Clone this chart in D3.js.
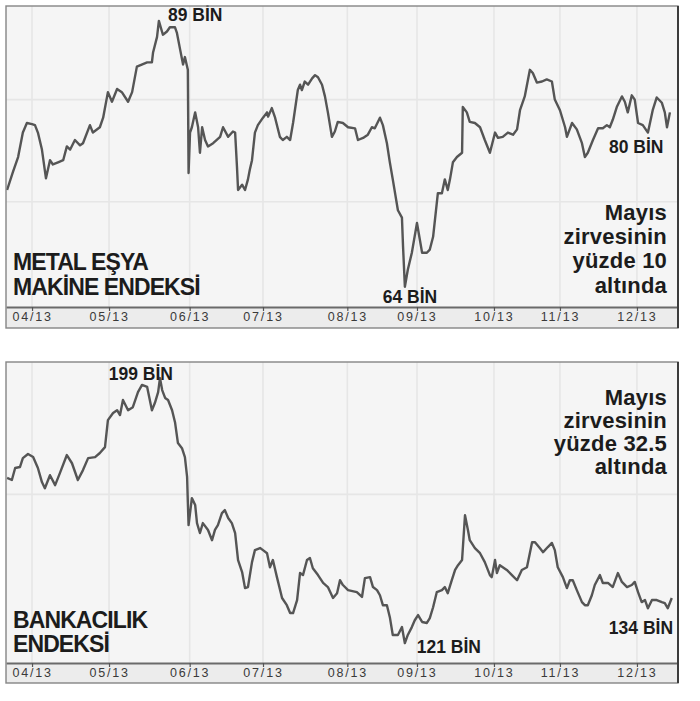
<!DOCTYPE html>
<html>
<head>
<meta charset="utf-8">
<script src="https://cdn.jsdelivr.net/npm/d3@7"></script>
<style>
  body { margin: 0; background: #fff; }
  svg { display: block; }
</style>
</head>
<body>
<div id="chart"></div>
<script>
// month ticks, as trading-day index (04/13 = day 0)
const monthLabels = ['04/13', '05/13', '06/13', '07/13', '08/13', '09/13', '10/13', '11/13', '12/13'];
const monthDays = [0, 21, 43, 63, 86, 105, 126, 144, 165];

// [trading day, index value in thousands]
const metalSeries = [[-6.8,73.1],[-5.2,74.8],[-3.8,76.2],[-2.5,78.5],[-1.4,79.4],[0,79.3],[0.8,79.2],[1.6,78.5],[2.7,76.9],[3.8,74.2],[4.9,75.9],[5.7,75.5],[7.1,75.7],[8.5,75.9],[9.5,77.2],[10.4,76.9],[11.7,77.8],[13.1,77.3],[13.9,77.5],[15.8,79.2],[16.6,78.5],[18.5,79.0],[19.4,79.9],[20.7,82.3],[21.8,81.4],[23.2,82.6],[24.5,82.3],[26.2,81.4],[27.3,82.3],[28.6,84.7],[31.4,85.1],[32.7,85.1],[33.0,86.0],[34.1,87.5],[34.6,89.0],[35.7,87.7],[36.8,88.0],[37.6,88.4],[39.0,88.4],[39.5,87.9],[40.4,86.3],[41.2,84.9],[41.7,85.6],[42.5,84.4],[42.7,74.7],[43.1,78.5],[43.6,79.0],[44.5,80.4],[45.3,79.0],[45.8,76.6],[46.4,79.0],[47.2,77.8],[48.0,77.2],[49.4,77.5],[51.3,78.1],[52.1,79.0],[53.5,78.1],[54.8,78.6],[55.4,78.5],[55.9,75.3],[56.2,73.1],[57.3,73.6],[58.1,73.1],[58.9,74.1],[59.4,75.0],[60.0,75.9],[60.8,78.5],[61.6,79.2],[63.0,79.9],[64.1,80.4],[64.4,80.0],[65.4,80.8],[66.3,79.9],[67.6,78.1],[68.4,77.8],[69.5,78.1],[70.4,77.8],[71.2,79.4],[72.5,82.5],[73.1,83.0],[73.6,82.5],[74.4,83.3],[75.3,83.0],[76.4,83.6],[77.2,83.9],[78.0,83.7],[79.1,83.0],[79.9,81.9],[80.7,80.4],[81.8,78.1],[82.6,78.6],[83.4,79.5],[84.8,79.4],[86.2,79.0],[88.1,78.9],[88.9,77.8],[90.3,78.0],[91.6,78.3],[92.7,79.0],[93.5,78.9],[94.9,79.9],[95.7,79.2],[96.8,77.5],[97.6,75.7],[98.4,74.1],[99.8,71.2],[100.9,70.5],[101.2,67.8],[101.7,64.0],[102.5,65.6],[103.6,67.2],[105.0,70.0],[105.8,68.4],[106.4,67.2],[107.7,67.2],[108.5,67.5],[109.4,68.7],[110.7,72.8],[111.8,72.8],[112.6,74.1],[113.4,73.1],[114.0,74.1],[114.8,75.7],[115.9,76.2],[117.3,76.6],[117.5,80.9],[118.6,80.4],[119.4,79.5],[120.8,79.4],[122.2,79.0],[123.5,77.8],[124.9,76.6],[126.3,78.5],[127.1,78.0],[128.4,78.1],[129.8,78.5],[131.2,78.3],[132.3,78.8],[133.1,80.6],[134.4,81.9],[135.8,84.4],[136.6,84.1],[137.7,83.2],[139.1,83.3],[140.4,83.5],[141.8,83.3],[142.6,81.6],[144.0,80.6],[145.4,79.0],[145.9,78.1],[147.3,79.4],[148.6,78.8],[150.0,77.5],[150.8,76.2],[151.6,76.6],[153.0,77.8],[154.4,78.9],[155.7,78.9],[156.8,79.2],[157.6,79.0],[158.4,79.7],[159.5,80.9],[160.9,81.9],[161.7,81.4],[162.5,80.4],[163.6,82.0],[164.4,81.6],[165.3,79.4],[166.6,79.2],[168.0,78.5],[169.3,80.6],[170.4,81.8],[171.8,81.3],[172.6,80.4],[173.2,79.0],[174.0,80.4]];

const bankSeries = [[-6.8,169.8],[-5.5,169.2],[-4.6,172.7],[-3.3,173.0],[-2.5,175.6],[-1.1,176.8],[0.3,175.9],[1.6,172.7],[2.7,168.6],[3.5,166.8],[4.9,170.6],[6.3,167.7],[7.6,171.2],[9.5,176.5],[10.9,174.1],[12.5,169.2],[13.9,172.1],[15.3,175.6],[17.2,175.9],[18.5,177.1],[19.9,178.8],[20.7,186.7],[22.1,188.8],[23.2,189.6],[24.0,188.2],[24.8,192.6],[26.2,189.6],[27.5,190.5],[28.9,194.9],[30.0,197.0],[31.4,196.4],[32.7,189.6],[33.5,191.7],[34.4,194.9],[34.9,199.0],[35.5,195.5],[36.3,193.2],[37.1,192.6],[38.2,189.6],[39.0,186.1],[39.8,180.0],[40.9,178.5],[41.7,175.9],[42.3,170.1],[42.5,162.7],[42.7,156.0],[43.6,163.9],[44.5,161.9],[45.0,156.6],[45.8,153.7],[46.6,156.6],[48.0,154.6],[49.1,151.6],[49.9,154.6],[50.7,156.0],[51.8,159.5],[52.6,160.4],[53.5,158.1],[54.5,156.6],[55.4,153.7],[56.2,145.8],[57.3,142.3],[58.1,137.6],[58.9,137.9],[60.0,145.2],[60.8,148.7],[62.2,149.3],[63.0,148.7],[64.1,147.8],[64.9,143.7],[65.7,145.8],[66.8,140.8],[68.2,134.7],[69.5,132.6],[70.4,130.3],[71.2,130.3],[72.3,134.1],[73.1,142.0],[73.9,141.4],[75.0,145.8],[75.8,146.4],[76.6,143.4],[78.0,141.4],[79.4,139.1],[80.7,137.9],[82.1,134.7],[83.2,136.1],[84.0,139.9],[84.8,138.5],[86.2,137.0],[88.6,136.4],[90.0,135.0],[90.8,140.5],[92.2,140.8],[93.0,137.9],[94.1,137.0],[94.9,135.5],[95.7,132.6],[96.8,132.6],[97.6,129.1],[98.4,123.9],[99.8,123.9],[100.9,126.2],[101.7,121.5],[102.5,123.9],[103.6,126.2],[104.4,128.2],[105.3,129.7],[106.4,127.7],[107.7,127.4],[108.5,128.8],[109.4,132.0],[110.4,136.4],[111.8,137.0],[112.6,137.9],[113.4,136.1],[114.5,139.9],[115.4,142.9],[116.2,144.3],[117.3,145.8],[118.1,158.9],[118.9,154.6],[119.4,151.6],[120.8,149.3],[122.2,147.8],[123.5,145.2],[124.9,141.4],[125.4,140.8],[126.3,145.8],[126.8,142.0],[127.6,144.3],[129.5,142.9],[130.9,141.4],[132.3,139.9],[133.6,142.9],[135.0,143.7],[136.4,151.0],[137.2,151.0],[138.5,149.3],[139.4,148.1],[140.7,149.6],[141.8,150.8],[142.6,148.7],[143.4,143.7],[144.8,140.8],[145.9,137.6],[146.7,139.9],[147.5,139.9],[148.6,137.0],[150.0,133.5],[150.8,132.6],[151.6,132.6],[152.7,135.5],[153.5,138.5],[154.9,141.4],[155.7,139.1],[157.1,139.1],[158.4,137.9],[159.8,142.0],[160.9,139.4],[162.3,137.9],[163.6,138.5],[164.4,139.4],[165.3,136.4],[166.3,133.5],[167.2,134.1],[168.0,131.7],[169.1,134.1],[170.4,134.1],[171.8,133.5],[172.6,133.2],[173.4,131.7],[174.5,134.7]];

var W = 700, H = 701;
var left = 6, right = 678;

var svg = d3.select('#chart')
  .append('svg')
  .attr('width', W)
  .attr('height', H);

svg.append('rect').attr('width', W).attr('height', H).attr('fill', '#fff');

var x = d3.scaleLinear().domain([-7.1, 176.2]).range([left, right]);

function drawPanel(cfg) {
  var y = d3.scaleLinear().domain(cfg.domain).range([cfg.bottom, cfg.top]);
  var g = svg.append('g');
  var clipId = 'clip-' + cfg.id;

  g.append('clipPath').attr('id', clipId)
    .append('rect')
    .attr('x', left).attr('y', cfg.top)
    .attr('width', right - left).attr('height', cfg.bottom - cfg.top);

  // plot background + axis strip
  g.append('rect')
    .attr('x', left).attr('y', cfg.top)
    .attr('width', right - left).attr('height', cfg.bottom - cfg.top)
    .attr('fill', '#f5f5f5');
  g.append('rect')
    .attr('x', left).attr('y', cfg.bottom)
    .attr('width', right - left).attr('height', cfg.stripBottom - cfg.bottom)
    .attr('fill', '#ececec');

  // grid
  g.selectAll('.vgrid')
    .data(monthDays)
    .enter().append('line')
    .attr('x1', d => x(d)).attr('x2', d => x(d))
    .attr('y1', cfg.top).attr('y2', cfg.bottom)
    .style('stroke', '#e6e6e6')
    .style('stroke-width', 1.6);
  g.selectAll('.hgrid')
    .data(cfg.grid)
    .enter().append('line')
    .attr('x1', left).attr('x2', right)
    .attr('y1', d => y(d)).attr('y2', d => y(d))
    .style('stroke', '#e6e6e6')
    .style('stroke-width', 1.6);

  // titles
  g.selectAll('.title')
    .data(cfg.title)
    .enter().append('text')
    .text(d => d)
    .attr('x', 13)
    .attr('y', (d, i) => cfg.titleY[i])
    .style('font-family', 'Liberation Sans, Arial, sans-serif')
    .style('font-weight', 'bold')
    .style('font-size', '23px')
    .style('letter-spacing', '-0.9px')
    .style('fill', '#1c1c1c');

  g.selectAll('.note')
    .data(cfg.note)
    .enter().append('text')
    .text(d => d)
    .attr('x', 667)
    .attr('y', (d, i) => cfg.noteY[i])
    .attr('text-anchor', 'end')
    .style('font-family', 'Liberation Sans, Arial, sans-serif')
    .style('font-weight', 'bold')
    .style('font-size', '22px')
    .style('letter-spacing', '0.2px')
    .style('fill', '#1c1c1c');

  // the series
  var line = d3.line()
    .x(d => x(d[0]))
    .y(d => y(d[1]));

  g.append('path')
    .datum(cfg.series)
    .attr('d', line)
    .attr('clip-path', 'url(#' + clipId + ')')
    .style('fill', 'none')
    .style('stroke', '#555')
    .style('stroke-width', 2.4)
    .style('stroke-linejoin', 'round');

  // value labels
  g.selectAll('.lab')
    .data(cfg.labels)
    .enter().append('text')
    .text(d => d.text)
    .attr('x', d => x(d.day))
    .attr('y', d => y(d.value))
    .attr('text-anchor', 'middle')
    .style('font-family', 'Liberation Sans, Arial, sans-serif')
    .style('font-weight', 'bold')
    .style('font-size', '17.5px')
    .style('fill', '#1c1c1c');

  // month axis
  var axis = d3.axisBottom(x)
    .tickValues(monthDays)
    .tickFormat((d, i) => monthLabels[i])
    .tickSize(4)
    .tickSizeOuter(0)
    .tickPadding(1);

  var ax = g.append('g')
    .attr('transform', 'translate(0,' + cfg.bottom + ')')
    .call(axis);
  ax.select('.domain').style('stroke', '#6a6a6a').style('stroke-width', 2);
  ax.selectAll('.tick line').style('stroke', '#555').style('stroke-width', 1.2);
  ax.selectAll('.tick text')
    .style('font-family', 'Liberation Sans, Arial, sans-serif')
    .style('font-size', '12.5px')
    .style('letter-spacing', '1.8px')
    .style('fill', '#3a3a3a');

  // frame
  g.append('rect')
    .attr('x', left).attr('y', cfg.top)
    .attr('width', right - left).attr('height', cfg.stripBottom - cfg.top)
    .style('fill', 'none')
    .style('stroke', '#858585')
    .style('stroke-width', 1.4);
  g.append('line')
    .attr('x1', right).attr('x2', right)
    .attr('y1', cfg.top).attr('y2', cfg.stripBottom)
    .style('stroke', '#3c3c3c')
    .style('stroke-width', 2);
}

drawPanel({
  id: 'metal',
  top: 6, bottom: 307, stripBottom: 328,
  domain: [62.1, 90.4],
  grid: [72, 81.6],
  series: metalSeries,
  title: ['METAL EŞYA', 'MAKİNE ENDEKSİ'],
  titleY: [270, 295],
  note: ['Mayıs', 'zirvesinin', 'yüzde 10', 'altında'],
  noteY: [220, 244, 268, 293],
  labels: [
    { text: '89 BİN', day: 44.5, value: 89.0 },
    { text: '64 BİN', day: 103.1, value: 62.5 },
    { text: '80 BİN', day: 164.8, value: 76.6 }
  ]
});

drawPanel({
  id: 'bank',
  top: 362, bottom: 663, stripBottom: 683,
  domain: [115.7, 203.7],
  grid: [165],
  series: bankSeries,
  title: ['BANKACILIK', 'ENDEKSİ'],
  titleY: [628, 652],
  note: ['Mayıs', 'zirvesinin', 'yüzde 32.5', 'altında'],
  noteY: [405, 428, 451, 474],
  labels: [
    { text: '199 BİN', day: 29.7, value: 198.4 },
    { text: '121 BİN', day: 113.7, value: 118.7 },
    { text: '134 BİN', day: 166.1, value: 124.3 }
  ]
});
</script>
</body>
</html>
